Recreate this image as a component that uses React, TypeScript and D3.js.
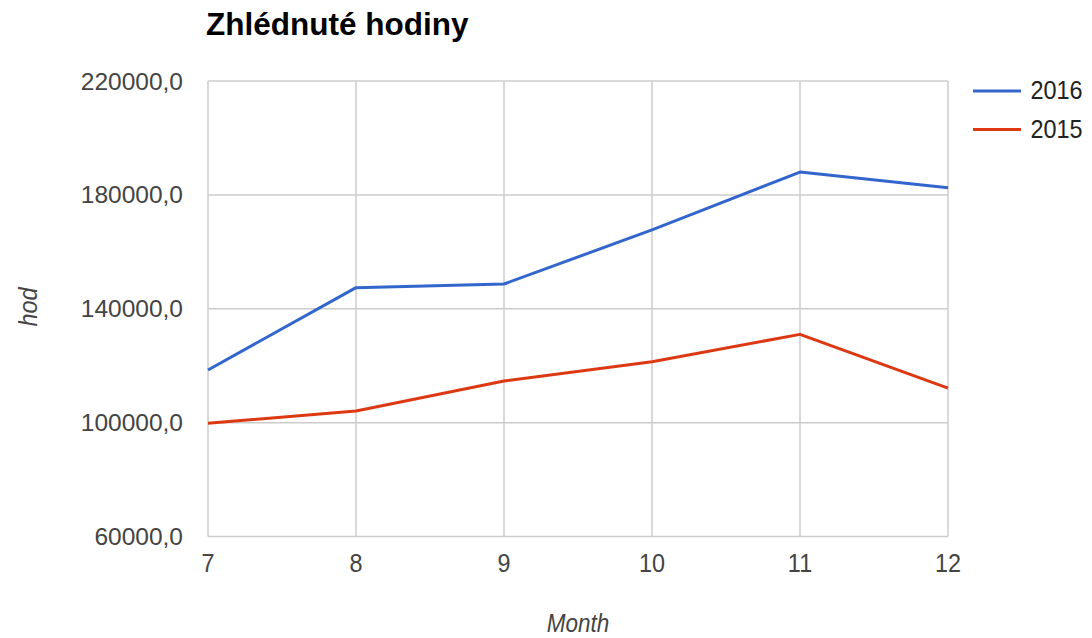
import React from "react";
import * as d3 from "d3";

const months = [7, 8, 9, 10, 11, 12];
const series2016 = [118500, 147400, 148700, 167700, 188000, 182500];
const series2015 = [99800, 104100, 114600, 121400, 131000, 112100];
const yTicks = [60000, 100000, 140000, 180000, 220000];
const seriesNames = ["2016", "2015"];
const colors = ["#3366cc", "#dc3912"];

const W = 1092;
const H = 638;
const left = 208;
const right = 948;
const top = 81;
const bottom = 536.5;
const SX = 0.9;

export default function App() {
  const x = d3.scaleLinear().domain([7, 12]).range([left, right]);
  const y = d3.scaleLinear().domain([60000, 220000]).range([bottom, top]);
  const line = d3
    .line<number>()
    .x((_, i) => x(months[i]))
    .y((d) => y(d));
  const allSeries = [series2016, series2015];
  const font = "Arial, 'Liberation Sans', sans-serif";
  const fmt = (v: number) => v.toFixed(1).replace(".", ",");

  return (
    <svg
      width={W}
      height={H}
      style={{ position: "absolute", left: 0, top: 0, background: "#fff" }}
      fontFamily={font}
    >
      <rect x={0} y={0} width={W} height={H} fill="#fff" />
      <text x={206} y={35} fontSize={31.5} fontWeight="bold" fill="#000">
        Zhlédnuté hodiny
      </text>
      {yTicks.map((t) => (
        <line
          key={"gy" + t}
          x1={left}
          x2={right}
          y1={y(t)}
          y2={y(t)}
          stroke="#cccccc"
          strokeWidth={1.5}
        />
      ))}
      {months.map((m) => (
        <line
          key={"gx" + m}
          x1={x(m)}
          x2={x(m)}
          y1={top}
          y2={bottom}
          stroke="#cccccc"
          strokeWidth={1.5}
        />
      ))}
      {yTicks.map((t) => (
        <text
          key={"ty" + t}
          x={183}
          y={y(t) + 8.5}
          fontSize={24.5}
          fill="#444"
          textAnchor="end"
        >
          {fmt(t)}
        </text>
      ))}
      {months.map((m) => (
        <text
          key={"tx" + m}
          transform={`translate(${x(m)}, 572) scale(${SX}, 1)`}
          fontSize={26}
          fill="#444"
          textAnchor="middle"
        >
          {m}
        </text>
      ))}
      <text
        transform={`translate(578, 632) scale(${SX}, 1)`}
        fontSize={25}
        fontStyle="italic"
        fill="#444"
        textAnchor="middle"
      >
        Month
      </text>
      <text
        transform={`translate(37, 307) rotate(-90) scale(${SX}, 1)`}
        fontSize={26}
        fontStyle="italic"
        fill="#444"
        textAnchor="middle"
      >
        hod
      </text>
      {allSeries.map((s, i) => (
        <path
          key={"s" + i}
          d={line(s) || ""}
          fill="none"
          stroke={colors[i]}
          strokeWidth={3}
          strokeLinejoin="round"
        />
      ))}
      {seriesNames.map((n, i) => (
        <g key={"lg" + n}>
          <line
            x1={973}
            x2={1021}
            y1={91 + i * 38.5}
            y2={91 + i * 38.5}
            stroke={colors[i]}
            strokeWidth={3}
          />
          <text
            transform={`translate(1030.5, ${99 + i * 38.5}) scale(${SX}, 1)`}
            fontSize={26}
            fill="#222"
          >
            {n}
          </text>
        </g>
      ))}
    </svg>
  );
}
